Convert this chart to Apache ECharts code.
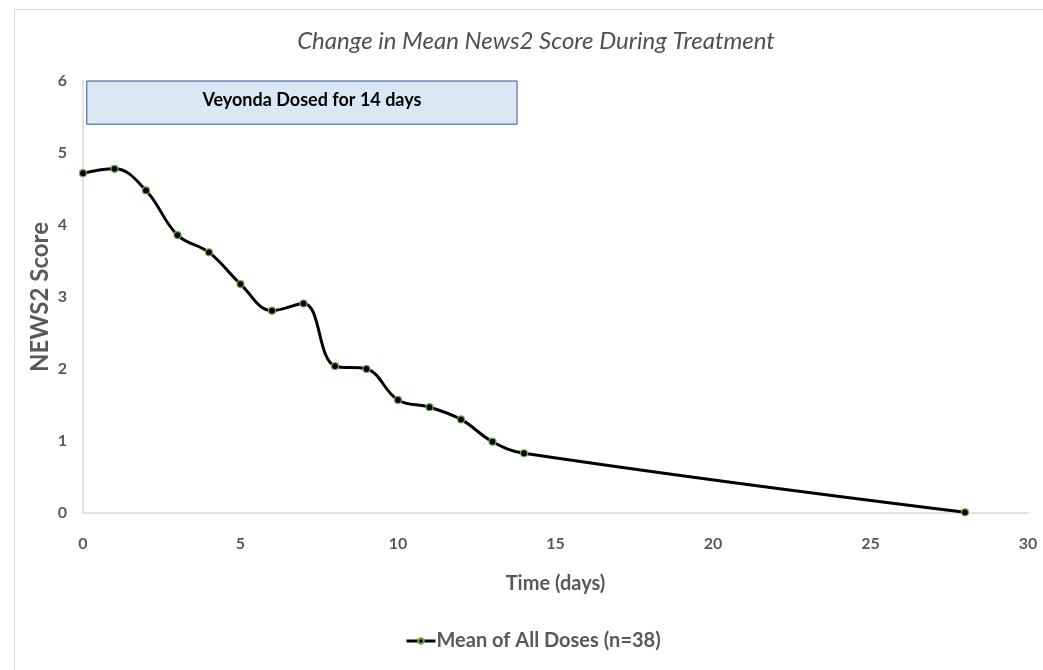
<!DOCTYPE html>
<html>
<head>
<meta charset="utf-8">
<script src="https://cdn.jsdelivr.net/npm/echarts@6/dist/echarts.min.js"></script>
<style>
  html, body { margin: 0; padding: 0; background: #fff; }
  #chart { width: 1043px; height: 670px; }
</style>
</head>
<body>
<div id="chart"></div>
<script>
const days = [0, 1, 2, 3, 4, 5, 6, 7, 8, 9, 10, 11, 12, 13, 14, 28];
const meanScore = [4.72, 4.78, 4.48, 3.86, 3.62, 3.18, 2.81, 2.91, 2.04, 2.0, 1.57, 1.47, 1.3, 0.99, 0.83, 0.01];
const xTicks = [0, 5, 10, 15, 20, 25, 30];
const yTicks = [0, 1, 2, 3, 4, 5, 6];
const dosingWindow = [0.12, 13.78];
const dosingBand = [5.4, 6];

const gray = "#595959";
// Lato is the closest installed face to Calibri
const font = "Lato, 'Liberation Sans', sans-serif";

const chart = echarts.init(document.getElementById("chart"));
chart.setOption({
  animation: false,
  graphic: [
    {
      type: "rect",
      left: 12,
      top: 7,
      shape: { width: 1060, height: 700 },
      style: { fill: "none", stroke: "#d9d9d9", lineWidth: 1 },
      silent: true,
      z: -1,
    },
  ],
  title: {
    text: "Change in Mean News2 Score During Treatment",
    left: 531,
    top: 24,
    textAlign: "center",
    textStyle: {
      color: "#505050",
      fontFamily: font,
      fontStyle: "italic",
      fontWeight: "normal",
      fontSize: 24,
    },
  },
  grid: {
    left: 83,
    right: 15,
    top: 81,
    bottom: 157,
  },
  legend: {
    top: 626,
    left: 400,
    itemWidth: 29,
    itemHeight: 7,
    itemGap: 0,
    lineStyle: { width: 3 },
    textStyle: { color: gray, fontFamily: font, fontWeight: "bold", fontSize: 20, padding: [0, 0, 0, -4] },
  },
  xAxis: {
    type: "value",
    min: xTicks[0],
    max: xTicks[xTicks.length - 1],
    interval: 5,
    name: "Time (days)",
    nameLocation: "middle",
    nameGap: 61,
    nameTextStyle: { color: gray, fontFamily: font, fontWeight: "bold", fontSize: 20 },
    axisLine: { lineStyle: { color: "#d9d9d9", width: 1.5 } },
    axisTick: { show: false },
    splitLine: { show: false },
    axisLabel: { color: gray, fontFamily: font, fontWeight: "bold", fontSize: 16, margin: 23 },
  },
  yAxis: {
    type: "value",
    min: yTicks[0],
    max: yTicks[yTicks.length - 1],
    interval: 1,
    name: "NEWS2 Score",
    nameLocation: "middle",
    nameGap: 31,
    nameMoveOverlap: false,
    nameTextStyle: { color: gray, fontFamily: font, fontWeight: "bold", fontSize: 24 },
    axisLine: { show: true, lineStyle: { color: "#d9d9d9", width: 1.5 } },
    axisTick: { show: false },
    splitLine: { show: false },
    axisLabel: { color: gray, fontFamily: font, fontWeight: "bold", fontSize: 16, margin: 16 },
  },
  series: [
    {
      name: "Mean of All Doses (n=38)",
      type: "line",
      data: days.map((d, i) => [d, meanScore[i]]),
      smooth: 0.4,
      symbol: "circle",
      symbolSize: 7,
      lineStyle: { color: "#000", width: 3 },
      itemStyle: { color: "#000", borderColor: "#70ad47", borderWidth: 1.2 },
      markArea: {
        silent: true,
        itemStyle: { color: "#dae8f5", borderColor: "#2f5597", borderWidth: 1 },
        label: {
          position: "inside",
          offset: [10, -2],
          color: "#000",
          fontFamily: font,
          fontWeight: "bold",
          fontSize: 18,
        },
        data: [[
          { name: "Veyonda Dosed for 14 days", coord: [dosingWindow[0], dosingBand[1]] },
          { coord: [dosingWindow[1], dosingBand[0]] },
        ]],
      },
    },
  ],
});
</script>
</body>
</html>
